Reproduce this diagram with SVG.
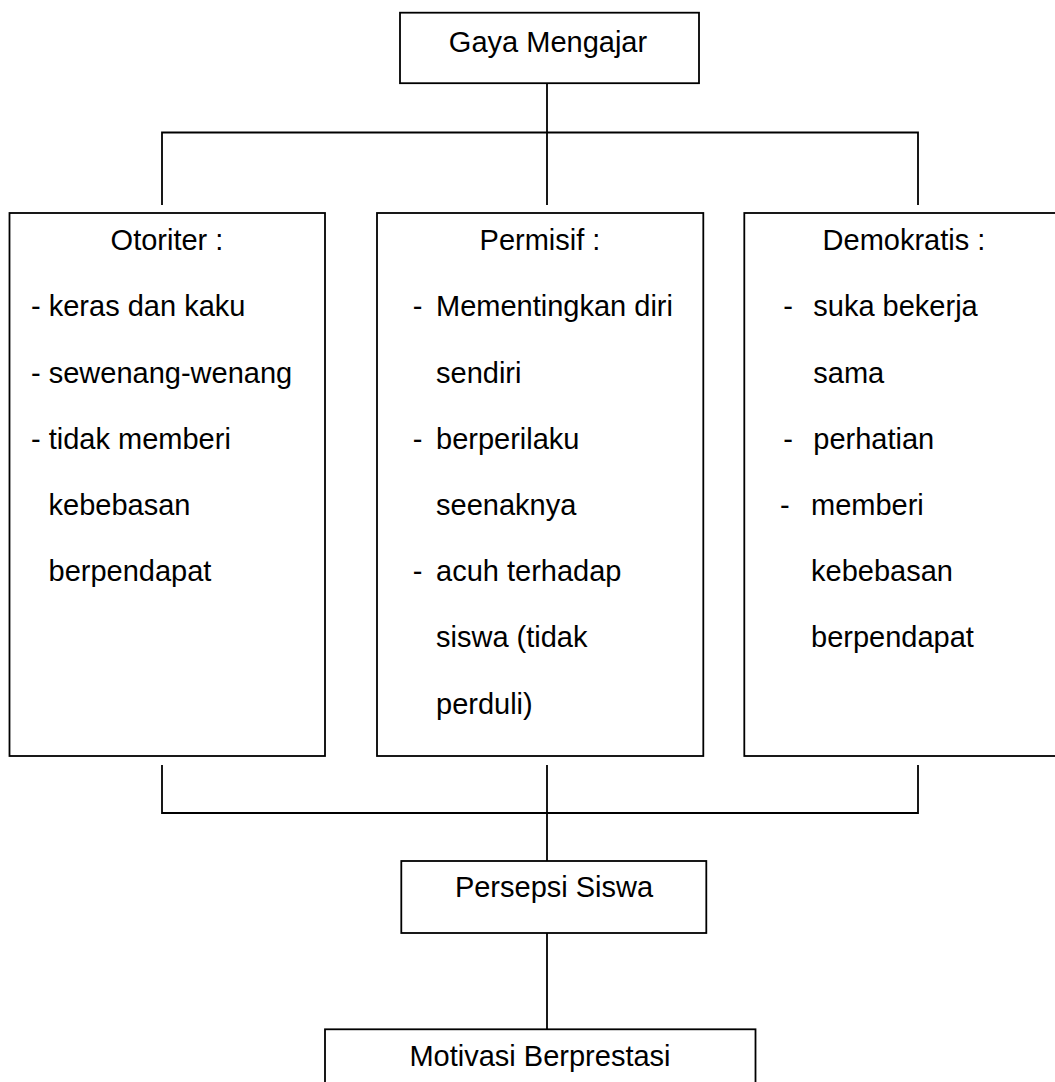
<svg xmlns="http://www.w3.org/2000/svg" width="1055" height="1082" viewBox="0 0 1055 1082">
<style>
.box{fill:#fff;stroke:#000;stroke-width:1.8}
.ln{fill:none;stroke:#000;stroke-width:1.8}
text{font-family:"Liberation Sans",Arial,sans-serif;font-size:29px;fill:#000}
.c{text-anchor:middle}
</style>
<rect width="1055" height="1082" fill="#fff"/>
<g id="connectors">
<path class="ln" d="M547,83 V205 M162,205 V132.5 H918 V205"/>
<path class="ln" d="M162,765 V813 H918 V765 M547,765 V861"/>
<path class="ln" d="M547,933 V1029"/>
</g>
<g id="gaya">
<rect class="box" x="400" y="12.7" width="299" height="70.5"/>
<text class="c" x="548" y="52">Gaya Mengajar</text>
</g>
<g id="otoriter">
<rect class="box" x="9.5" y="213" width="315.5" height="543"/>
<text class="c" x="167" y="250">Otoriter :</text>
<text x="31" y="316">- keras dan kaku</text>
<text x="31" y="383">- sewenang-wenang</text>
<text x="31" y="449">- tidak memberi</text>
<text x="48.5" y="515">kebebasan</text>
<text x="48.5" y="581">berpendapat</text>
</g>
<g id="permisif">
<rect class="box" x="377" y="213" width="326.3" height="543"/>
<text class="c" x="540" y="250">Permisif :</text>
<text x="412.7" y="316">-</text><text x="436" y="316">Mementingkan diri</text>
<text x="436" y="383">sendiri</text>
<text x="412.7" y="449">-</text><text x="436" y="449">berperilaku</text>
<text x="436" y="515">seenaknya</text>
<text x="412.7" y="581">-</text><text x="436" y="581">acuh terhadap</text>
<text x="436" y="647">siswa (tidak</text>
<text x="436" y="714">perduli)</text>
</g>
<g id="demokratis">
<rect class="box" x="744.3" y="213" width="320" height="543"/>
<text class="c" x="904" y="250">Demokratis :</text>
<text x="783.3" y="316">-</text><text x="813.3" y="316">suka bekerja</text>
<text x="813.3" y="383">sama</text>
<text x="783.3" y="449">-</text><text x="813.3" y="449">perhatian</text>
<text x="780" y="515">-</text><text x="811" y="515">memberi</text>
<text x="811" y="581">kebebasan</text>
<text x="811" y="647">berpendapat</text>
</g>
<g id="persepsi">
<rect class="box" x="401.3" y="861" width="305" height="72"/>
<text class="c" x="554" y="897">Persepsi Siswa</text>
</g>
<g id="motivasi">
<rect class="box" x="325" y="1029.3" width="430.5" height="80"/>
<text class="c" x="540" y="1066">Motivasi Berprestasi</text>
</g>
</svg>
